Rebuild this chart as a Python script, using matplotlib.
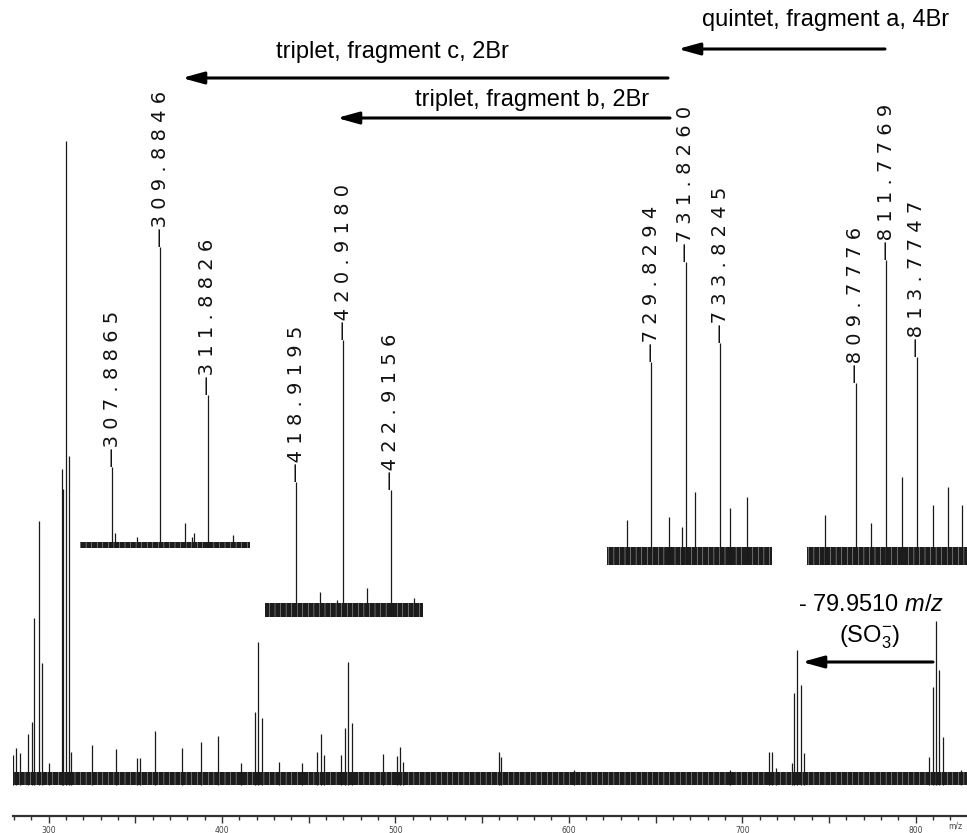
import matplotlib
matplotlib.use("Agg")
import matplotlib.pyplot as plt
from matplotlib.patches import FancyArrowPatch
from matplotlib.ticker import MultipleLocator, FuncFormatter

# full spectrum, peak m/z and relative intensity (%)
main_mz = [279.4, 281.4, 283.4, 288.0, 290.6, 291.8, 294.3, 296.0, 300.4,
           307.89, 308.2, 309.88, 311.88, 313.0, 325.2, 339.0, 350.8, 352.7,
           361.5, 376.9, 387.9, 397.9, 410.8, 418.92, 420.92, 422.92, 432.9,
           446.0, 454.8, 456.9, 458.8, 468.4, 470.8, 472.9, 474.8, 493.0,
           500.7, 502.6, 504.5, 559.6, 560.9, 603.0, 692.9, 715.4, 717.4,
           719.5, 728.6, 729.83, 731.83, 733.82, 735.8, 807.7, 809.78, 811.78,
           813.77, 816.0, 826.2]
main_int = [4.7, 5.7, 5.0, 7.9, 9.8, 26.0, 41.0, 18.9, 3.4,
            49.1, 46.0, 100.0, 51.1, 5.1, 6.2, 5.6, 4.2, 4.2,
            8.4, 5.7, 6.7, 7.6, 3.4, 11.3, 22.2, 10.4, 3.6,
            3.4, 5.1, 7.9, 4.7, 4.7, 8.9, 19.1, 9.6, 4.8,
            4.5, 5.9, 3.6, 5.1, 4.3, 2.3, 2.3, 5.1, 5.1,
            2.6, 3.4, 14.3, 21.0, 15.5, 5.0, 4.3, 15.2, 25.5,
            17.9, 7.5, 2.3]
main_noise = 2.0

# expanded views; first three peaks of each are the labelled ones
c_mz = [307.8865, 309.8846, 311.8826, 308.0, 308.92, 310.91, 311.21, 311.29, 312.92]
c_int = [26.9, 100, 50.8, 5.0, 3.7, 8.3, 3.7, 5.0, 4.3]
b_mz = [418.9195, 420.9180, 422.9156, 419.93, 420.65, 421.93, 423.9]
b_int = [48.7, 100, 45.8, 9.0, 6.1, 10.5, 6.9]
d_mz = [729.8294, 731.8260, 733.8245, 728.41, 730.87, 731.62, 732.39, 734.42, 735.40]
d_int = [67.0, 100, 73.3, 14.9, 15.8, 12.5, 24.1, 18.8, 22.4]
a_mz = [809.7776, 811.7769, 813.7747, 807.74, 810.76, 812.79, 814.83, 815.8, 816.7]
a_int = [59.7, 100, 68.2, 16.4, 13.8, 28.9, 19.7, 25.6, 19.7]

plt.rcParams["hatch.linewidth"] = 0.35
plt.rcParams["mathtext.fontset"] = "custom"
plt.rcParams["mathtext.rm"] = "Liberation Sans"
plt.rcParams["mathtext.it"] = "Liberation Sans:italic"

W, H = 967, 833
fig = plt.figure(figsize=(W / 100, H / 100), dpi=100)


def box(x0, y0, x1, y1):
    # pixel box (top-left origin) -> figure fraction rect
    return [x0 / W, 1 - y1 / H, (x1 - x0) / W, (y1 - y0) / H]


def pt(x, y):
    return (x / W, 1 - y / H)


def noise_band(a, lim, level):
    # baseline noise drawn as a dark streaked band
    a.fill_between(lim, 0, level, facecolor="#1c1c1c", edgecolor="#bbbbbb",
                   hatch="|||", lw=0)


ax = fig.add_axes(box(13, 0, 967, 816))
xlim = (279.47, 829.64)
noise_band(ax, xlim, main_noise)
ax.vlines(main_mz, 0, main_int, color="#1a1a1a", lw=0.9)
ax.set_xlim(xlim)
ax.set_ylim(-4.81, 121.9)
for s in ["top", "left", "right"]:
    ax.spines[s].set_visible(False)
ax.spines["bottom"].set_linewidth(1.6)
ax.spines["bottom"].set_color("#333333")
ax.set_yticks([])
ax.xaxis.set_major_locator(MultipleLocator(50))
ax.xaxis.set_minor_locator(MultipleLocator(10))
ax.xaxis.set_major_formatter(FuncFormatter(lambda v, p: "%d" % v if v % 100 == 0 else ""))
ax.tick_params(axis="x", which="major", length=5, width=1, labelsize=5.5,
               labelcolor="#444444", pad=2, color="#333333")
ax.tick_params(axis="x", which="minor", length=3, width=1, color="#333333")
fig.text(*pt(948, 826), "m/z", fontsize=5.5, color="#444444", va="center")


def draw_inset(pix, lim, mz, inten, noise):
    a = fig.add_axes(box(*pix))
    a.patch.set_alpha(0)
    a.axis("off")
    a.set_xlim(lim)
    a.set_ylim(0, 100)
    noise_band(a, lim, noise)
    a.vlines(mz, 0, inten, color="#1a1a1a", lw=0.9)
    for m, i in zip(mz[:3], inten[:3]):
        a.text(m, i, "\u2014" + " ".join("%.4f" % m), rotation=90,
               ha="center", va="bottom", fontsize=14, color="#111111",
               clip_on=False)


draw_inset((80, 247, 250, 548), (306.54, 313.64), c_mz, c_int, 2)
draw_inset((265, 340, 423, 617), (417.61, 424.27), b_mz, b_int, 5)
draw_inset((607, 262, 772, 565), (727.28, 736.83), d_mz, d_int, 6)
draw_inset((807, 260, 967, 565), (806.57, 817.06), a_mz, a_int, 6)


def arrow(x0, x1, y):
    fig.add_artist(FancyArrowPatch(pt(x0, y), pt(x1, y), transform=fig.transFigure,
                                   arrowstyle="-|>,head_length=0.65,head_width=0.18",
                                   mutation_scale=20, lw=2.2, color="black",
                                   shrinkA=0, shrinkB=0))


tfont = dict(fontsize=17, family="Liberation Sans", ha="center", va="center")
arrow(885, 678, 49)
fig.text(*pt(826, 20), "quintet, fragment a, 4Br", **tfont)
arrow(668, 182, 78)
fig.text(*pt(392, 52), "triplet, fragment c, 2Br", **tfont)
arrow(670, 337, 118)
fig.text(*pt(532, 100), "triplet, fragment b, 2Br", **tfont)
arrow(933, 802, 662)
fig.text(*pt(871, 605), "- 79.9510 $m/z$", **tfont)
fig.text(*pt(870, 637), "(SO$_3^{-}$)", **tfont)

fig.savefig("out.png", dpi=100)
